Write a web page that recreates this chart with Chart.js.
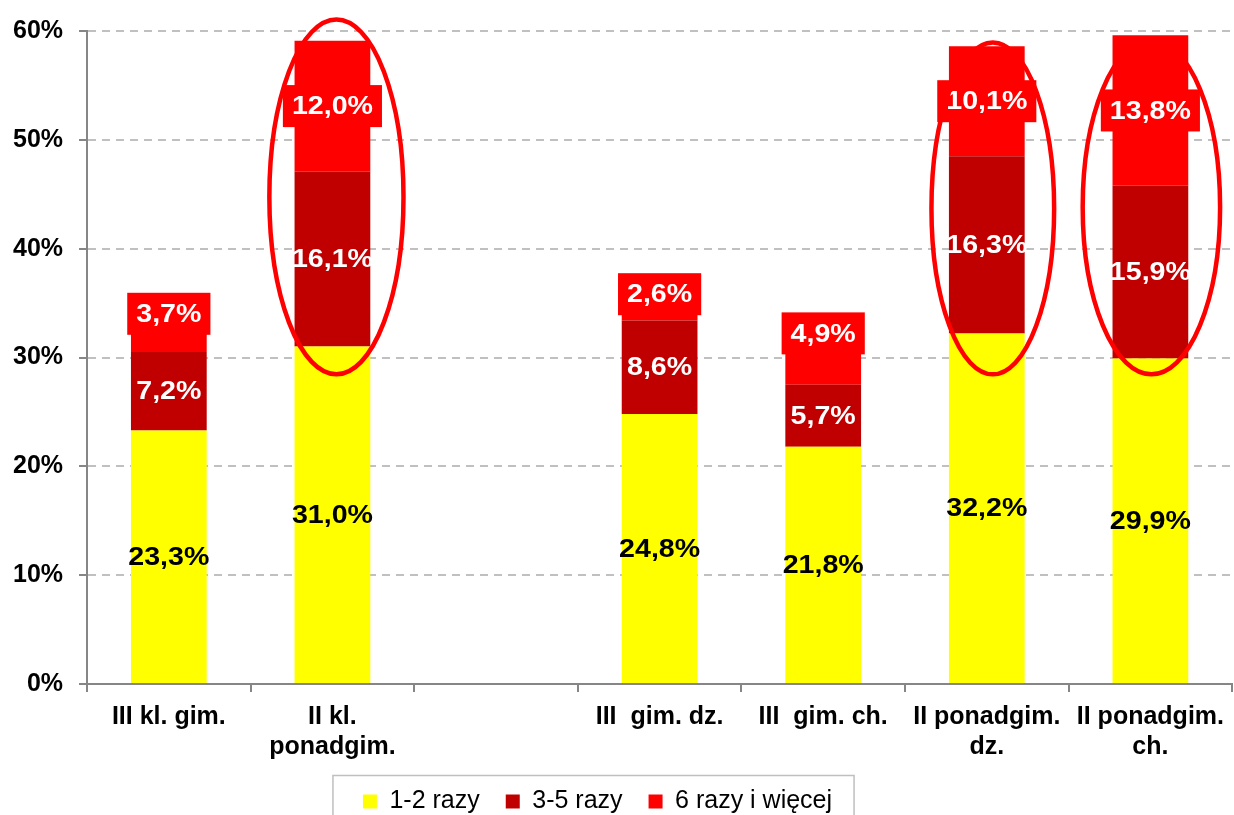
<!DOCTYPE html>
<html lang="pl">
<head>
<meta charset="utf-8">
<title>Częstość – wykres słupkowy</title>
<style>
  html, body { margin: 0; padding: 0; background: #ffffff; }
  #wrap { position: relative; width: 1234px; height: 815px; }
</style>
<script src="https://cdn.jsdelivr.net/npm/chart.js@4.4.1/dist/chart.umd.min.js"></script>
</head>
<body>
<div id="wrap"><canvas id="chart" width="1234" height="815"></canvas></div>
<script>
// Categories (the empty one separates the two groups of bars)
const categories = [
  'III kl. gim.',
  ['II kl.', 'ponadgim.'],
  '',
  'III  gim. dz.',
  'III  gim. ch.',
  ['II ponadgim.', 'dz.'],
  ['II ponadgim.', 'ch.']
];
const seriesNames = ['1-2 razy', '3-5 razy', '6 razy i więcej'];
const razy1do2 = [23.3, 31.0, null, 24.8, 21.8, 32.2, 29.9];
const razy3do5 = [7.2, 16.1, null, 8.6, 5.7, 16.3, 15.9];
const razy6plus = [3.7, 12.0, null, 2.6, 4.9, 10.1, 13.8];
const yTicks = [0, 10, 20, 30, 40, 50, 60];
// Bars circled in red
const highlighted = [1, 5, 6];

// Ring shapes around the highlighted bars: horizontal nudge (px), half-width as
// a share of the category width, centre and half-height in axis units (%)
const ringShape = [
  { dx: 4, rx: 0.41, cy: 44.75, ry: 16.3 },
  { dx: 6, rx: 0.375, cy: 43.7, ry: 15.25 },
  { dx: 1, rx: 0.42, cy: 43.8, ry: 15.35 }
];

const FONT = "'Liberation Sans', Arial, Helvetica, sans-serif";
Chart.defaults.font.family = FONT;

const colors = ['#ffff00', '#c00000', '#ff0000'];
const labelColors = ['#000000', '#ffffff', '#ffffff'];
const fmt = v => v.toFixed(1).replace('.', ',') + '%';

// Value labels drawn inside each segment; the top series gets a red tag
const valueLabels = {
  id: 'valueLabels',
  afterDatasetsDraw(chart) {
    const ctx = chart.ctx;
    const stretch = 1.1;
    chart.data.datasets.forEach((ds, di) => {
      const meta = chart.getDatasetMeta(di);
      meta.data.forEach((bar, i) => {
        const v = ds.data[i];
        if (v == null) return;
        const p = bar.getProps(['x', 'y', 'base'], true);
        const text = fmt(v);
        ctx.save();
        ctx.font = 'bold 26px ' + FONT;
        const w = ctx.measureText(text).width * stretch;
        let cy = (p.y + p.base) / 2;
        if (di === 2) {
          // short top segments carry their tag on the bar's upper edge
          if (Math.abs(p.base - p.y) < 60) cy = p.y + 2;
          ctx.fillStyle = colors[2];
          ctx.fillRect(p.x - w / 2 - 9, cy - 21, w + 18, 42);
        }
        ctx.translate(p.x, cy);
        ctx.scale(stretch, 1);
        ctx.fillStyle = labelColors[di];
        ctx.textAlign = 'center';
        ctx.textBaseline = 'middle';
        ctx.fillText(text, 0, 1);
        ctx.restore();
      });
    });
  }
};

// Red rings around the highlighted bars and the frame around the legend
const overlay = {
  id: 'overlay',
  afterLayout(chart) {
    // move the legend row a little to the left of the canvas centre
    chart.legend.left -= 18;
    chart.legend.right -= 18;
  },
  afterDraw(chart) {
    const ctx = chart.ctx;
    const xs = chart.scales.x, ys = chart.scales.y;
    const cw = xs.width / categories.length;
    ctx.save();
    ctx.strokeStyle = '#ff0000';
    ctx.lineWidth = 4.5;
    highlighted.forEach((idx, k) => {
      const g = ringShape[k];
      const cx = xs.getPixelForValue(idx) + g.dx;
      const cy = ys.getPixelForValue(g.cy);
      const ry = Math.abs(ys.getPixelForValue(g.cy + g.ry) - cy);
      ctx.beginPath();
      ctx.ellipse(cx, cy, g.rx * cw, ry, 0, 0, Math.PI * 2);
      ctx.stroke();
    });
    ctx.restore();

    const hb = chart.legend.legendHitBoxes;
    if (hb && hb.length) {
      const first = hb[0], last = hb[hb.length - 1];
      const midY = first.top + first.height / 2;
      const left = first.left - 30;
      const right = last.left + last.width + 22;
      ctx.save();
      ctx.strokeStyle = '#bfbfbf';
      ctx.lineWidth = 1.5;
      ctx.strokeRect(left, midY - 26, right - left, 60);
      ctx.restore();
    }
  }
};

new Chart(document.getElementById('chart'), {
  type: 'bar',
  data: {
    labels: categories,
    datasets: [
      { label: seriesNames[0], data: razy1do2, backgroundColor: colors[0] },
      { label: seriesNames[1], data: razy3do5, backgroundColor: colors[1] },
      { label: seriesNames[2], data: razy6plus, backgroundColor: colors[2] }
    ]
  },
  options: {
    responsive: false,
    animation: false,
    layout: { padding: { left: -3, top: 31, right: 0, bottom: -9 } },
    datasets: { bar: { categoryPercentage: 1, barPercentage: 0.463 } },
    scales: {
      x: {
        stacked: true,
        grid: {
          offset: true, drawOnChartArea: false, drawTicks: true,
          color: '#868686', lineWidth: 2, tickLength: 8
        },
        border: { color: '#868686', width: 2 },
        ticks: {
          color: '#000000', padding: 10, maxRotation: 0, minRotation: 0, autoSkip: false,
          font: { size: 25, weight: 'bold', lineHeight: 1.2 }
        },
        afterFit(scale) { scale.height = 79; }
      },
      y: {
        stacked: true,
        min: 0, max: 60,
        afterBuildTicks(scale) { scale.ticks = yTicks.map(v => ({ value: v })); },
        grid: {
          color: '#c0c0c0', lineWidth: 2, tickLength: 8,
          tickColor: '#868686', tickWidth: 2, tickBorderDash: []
        },
        border: { color: '#868686', width: 2, dash: [8, 6] },
        ticks: {
          color: '#000000', padding: 16,
          font: { size: 25, weight: 'bold' },
          callback: v => v + '%'
        }
      }
    },
    plugins: {
      tooltip: { enabled: false },
      legend: {
        position: 'bottom',
        labels: {
          boxWidth: 14, boxHeight: 14, padding: 26, color: '#000000',
          font: { size: 25 }
        }
      }
    }
  },
  plugins: [valueLabels, overlay]
});
</script>
</body>
</html>
